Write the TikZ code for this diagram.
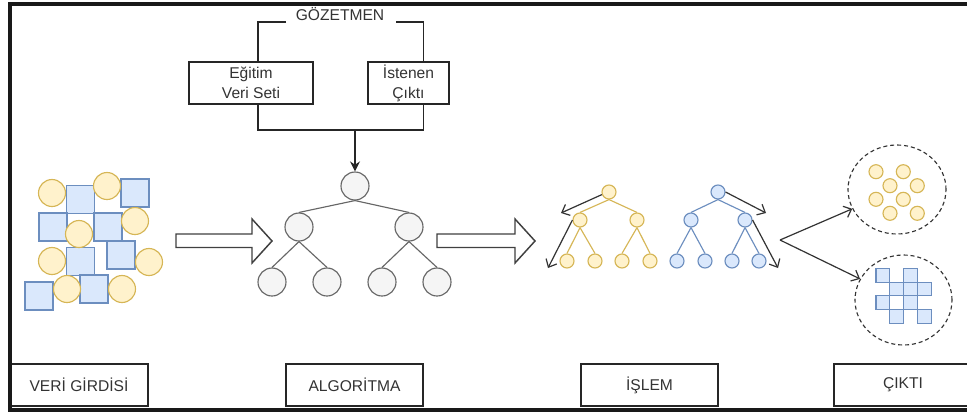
\documentclass[tikz,border=0pt]{standalone}
\usepackage{fontspec}
\setmainfont{Liberation Sans}
\usetikzlibrary{arrows.meta,shapes.geometric}
\definecolor{yfill}{HTML}{FFF2CC}
\definecolor{ydraw}{HTML}{D6B656}
\definecolor{bfill}{HTML}{DAE8FC}
\definecolor{bdraw}{HTML}{6C8EBF}
\definecolor{gfill}{HTML}{F5F5F5}
\definecolor{gdraw}{HTML}{666666}
\definecolor{txt}{HTML}{333333}
\begin{document}
\begin{tikzpicture}[x=0.75pt,y=-0.75pt,
  font=\fontsize{11.7}{15}\selectfont, text=txt,
  inc/.style={circle,draw=ydraw,fill=yfill,line width=0.85pt,minimum size=20.25pt,inner sep=0pt},
  inq/.style={rectangle,draw=bdraw,fill=bfill,line width=0.85pt,minimum size=21pt,inner sep=0pt},
  gnode/.style={circle,draw=gdraw,fill=gfill,line width=0.85pt,minimum size=21pt,inner sep=0pt},
  ynode/.style={circle,draw=ydraw,fill=yfill,line width=0.85pt,minimum size=10.5pt,inner sep=0pt},
  bnode/.style={circle,draw=bdraw,fill=bfill,line width=0.85pt,minimum size=10.5pt,inner sep=0pt},
  osq/.style={rectangle,draw=bdraw,fill=bfill,line width=0.85pt,minimum size=10.35pt,inner sep=0pt},
  labelbox/.style={rectangle,draw=black!85,line width=0.8pt,minimum height=31.5pt,inner sep=0pt,fill=white},
  txtbox/.style={rectangle,draw=black!85,line width=0.8pt,minimum height=31.5pt,inner sep=0pt,align=center},
  gedge/.style={draw=gdraw,line width=0.85pt},
  yedge/.style={draw=ydraw,line width=0.85pt},
  bedge/.style={draw=bdraw,line width=0.85pt},
  blk/.style={draw=black!85,line width=0.8pt},
  barrow/.style={draw=black!80,line width=0.9pt,-{Straight Barb[length=5pt,width=9pt]}},
  blockarrow/.style={draw=black!75,fill=white,line width=1.1pt,line join=miter},
  dashcirc/.style={ellipse,draw=black!80,line width=0.85pt,dash pattern=on 3pt off 2.2pt,inner sep=0pt}
]
\useasboundingbox (0,0) rectangle (967,412);
\clip (0,0) rectangle (967,412);
\fill[white] (0,0) rectangle (967,412);

% ---------- supervisor part ----------
\node (goz) at (340,14) {GÖZETMEN};
\node[txtbox,minimum width=93pt] (egitim) at (251,83) {Eğitim\\Veri Seti};
\node[txtbox,minimum width=60.75pt] (istenen) at (408.5,83) {İstenen\\Çıktı};
\coordinate (gl) at (286,22);
\coordinate (gr) at (396,22);
\coordinate (join) at (355,130);

% ---------- algorithm tree ----------
\node[gnode] (g0) at (355,186) {};
\node[gnode] (g1) at (299,227) {};
\node[gnode] (g2) at (409,227) {};
\node[gnode] (g3) at (272,282) {};
\node[gnode] (g4) at (327,282) {};
\node[gnode] (g5) at (382,282) {};
\node[gnode] (g6) at (437,282) {};
\draw[gedge] (g0.south) -- (g1.north);
\draw[gedge] (g0.south) -- (g2.north);
\draw[gedge] (g1.south) -- (g3.north);
\draw[gedge] (g1.south) -- (g4.north);
\draw[gedge] (g2.south) -- (g5.north);
\draw[gedge] (g2.south) -- (g6.north);

\draw[blk] (gl) -| ([xshift=5.25pt]egitim.north);
\draw[blk] (gr) -| ([xshift=10.9pt]istenen.north);
\draw[blk] ([xshift=5.25pt]egitim.south) |- (join) -| ([xshift=10.9pt]istenen.south);
\draw[blk,-{Stealth[length=7.5pt,width=7.5pt]}] (join) -- (g0.north);

% ---------- input data ----------
\node[inq] (q1) at (80.5,199.5) {};
\node[inq] (q2) at (135,193) {};
\node[inq] (q3) at (53,227) {};
\node[inq] (q4) at (108,227) {};
\node[inq] (q5) at (80.5,261.5) {};
\node[inq] (q6) at (121,255) {};
\node[inq] (q7) at (39,296) {};
\node[inq] (q8) at (94,289) {};
\node[inc] (c1) at (52,193) {};
\node[inc] (c2) at (107,186) {};
\node[inc] (c3) at (79,234) {};
\node[inc] (c4) at (135,221) {};
\node[inc] (c5) at (52,261) {};
\node[inc] (c6) at (149,262) {};
\node[inc] (c7) at (67,289) {};
\node[inc] (c8) at (122,289) {};

% ---------- block arrows ----------
\draw[blockarrow] (176,234) -- (252,234) -- (252,219) -- (272,241) -- (252,263) -- (252,247.5) -- (176,247.5) -- cycle;
\draw[blockarrow] (437,234) -- (515,234) -- (515,219) -- (535,241) -- (515,263) -- (515,247.5) -- (437,247.5) -- cycle;

% ---------- processing trees ----------
\node[ynode] (y0) at (609,192) {};
\node[ynode] (y1) at (580,220) {};
\node[ynode] (y2) at (637,220) {};
\node[ynode] (y3) at (567,261) {};
\node[ynode] (y4) at (595,261) {};
\node[ynode] (y5) at (622,261) {};
\node[ynode] (y6) at (650,261) {};
\draw[yedge] (y0.south) -- (y1.north);
\draw[yedge] (y0.south) -- (y2.north);
\draw[yedge] (y1.south) -- (y3.north);
\draw[yedge] (y1.south) -- (y4.north);
\draw[yedge] (y2.south) -- (y5.north);
\draw[yedge] (y2.south) -- (y6.north);

\node[bnode] (b0) at (718,192) {};
\node[bnode] (b1) at (691,220) {};
\node[bnode] (b2) at (745,220) {};
\node[bnode] (b3) at (677,261) {};
\node[bnode] (b4) at (705,261) {};
\node[bnode] (b5) at (732,261) {};
\node[bnode] (b6) at (759,261) {};
\draw[bedge] (b0.south) -- (b1.north);
\draw[bedge] (b0.south) -- (b2.north);
\draw[bedge] (b1.south) -- (b3.north);
\draw[bedge] (b1.south) -- (b4.north);
\draw[bedge] (b2.south) -- (b5.north);
\draw[bedge] (b2.south) -- (b6.north);

\coordinate (ya) at (561,213);
\coordinate (yb) at (548,268);
\coordinate (ba) at (766,213);
\coordinate (bb) at (778,268);
\draw[barrow] (y0.200) -- (ya);
\draw[barrow] (y1.west) -- (yb);
\draw[barrow] (b0.east) -- (ba);
\draw[barrow] (b2.east) -- (bb);

% ---------- output ----------
\node[dashcirc,minimum width=73.5pt,minimum height=66.75pt] (out1) at (897,189.5) {};
\node[dashcirc,minimum width=72.75pt,minimum height=67.5pt] (out2) at (903.5,300) {};
\node[ynode] (o1) at (876,171.7) {};
\node[ynode] (o2) at (903.3,171.7) {};
\node[ynode] (o3) at (890,185.7) {};
\node[ynode] (o4) at (917.3,185.7) {};
\node[ynode] (o5) at (876,199.3) {};
\node[ynode] (o6) at (903.3,199.3) {};
\node[ynode] (o7) at (890,213.3) {};
\node[ynode] (o8) at (917.3,213.3) {};
\foreach \cx/\cy [count=\k] in {0/0,2/0,1/1,2/1,3/1,0/2,2/2,1/3,3/3}
  \node[osq] (s\k) at ({882.9+13.8*\cx},{275.2+13.8*\cy}) {};
\coordinate (os) at (780,240);
\draw[barrow] (os) -- (out1);
\draw[barrow] (os) -- (out2);

% ---------- bottom labels ----------
\node[labelbox,minimum width=103.5pt] (l1) at (79,385) {VERİ GİRDİSİ};
\node[labelbox,minimum width=102.75pt] (l2) at (354.5,385) {ALGORİTMA};
\node[labelbox,minimum width=102.75pt] (l3) at (649.5,385) {İŞLEM};
\node[labelbox,minimum width=103.5pt] (l4) at (903,385) {ÇIKTI};

% ---------- frame ----------
\draw[black!90,line width=3pt] (10,3.5) rectangle (980,409.5);
\end{tikzpicture}
\end{document}
